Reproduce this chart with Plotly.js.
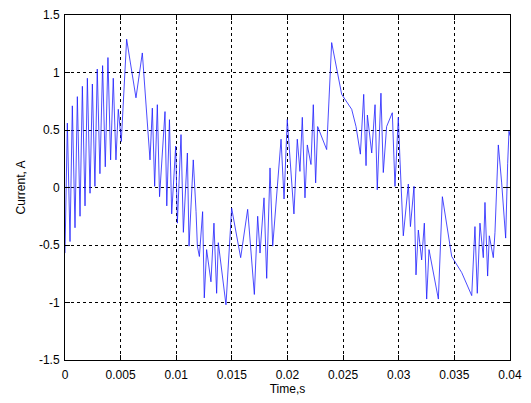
<!DOCTYPE html>
<html><head><meta charset="utf-8">
<script src="https://cdn.plot.ly/plotly-3.0.1.min.js"></script>
<style>html,body{margin:0;padding:0;background:#fff}#chart{width:531px;height:403px}</style>
</head><body><div id="chart"></div>
<script>
const timeS = [0.00000,0.00021,0.00045,0.00066,0.00090,0.00111,0.00135,0.00156,0.00180,0.00201,0.00225,0.00246,0.00269,0.00290,0.00314,0.00338,0.00362,0.00386,0.00410,0.00434,0.00458,0.00479,0.00506,0.00554,0.00638,0.00695,0.00764,0.00785,0.00806,0.00830,0.00850,0.00899,0.00915,0.00939,0.00959,0.00995,0.01010,0.01043,0.01064,0.01100,0.01115,0.01153,0.01178,0.01190,0.01208,0.01237,0.01252,0.01273,0.01312,0.01339,0.01363,0.01378,0.01447,0.01498,0.01579,0.01642,0.01702,0.01732,0.01753,0.01789,0.01813,0.01843,0.01867,0.01942,0.01969,0.01998,0.02058,0.02088,0.02112,0.02133,0.02157,0.02178,0.02211,0.02232,0.02253,0.02271,0.02352,0.02373,0.02397,0.02487,0.02577,0.02616,0.02655,0.02685,0.02706,0.02718,0.02757,0.02787,0.02807,0.02840,0.02861,0.02891,0.02942,0.02966,0.02996,0.03011,0.03041,0.03086,0.03105,0.03137,0.03155,0.03176,0.03206,0.03230,0.03251,0.03272,0.03326,0.03356,0.03392,0.03476,0.03566,0.03656,0.03685,0.03706,0.03730,0.03760,0.03775,0.03799,0.03814,0.03850,0.03865,0.03895,0.03925,0.03961,0.03979,0.03991,0.04000];
const currentA = [-0.57,0.56,-0.47,0.71,-0.35,0.79,-0.25,0.88,-0.16,0.95,-0.05,0.90,0.01,1.03,0.12,1.06,0.18,1.13,0.24,0.95,0.24,0.68,0.40,1.29,0.78,1.17,0.24,0.69,0.01,0.72,-0.08,0.66,-0.16,0.59,-0.23,0.36,-0.31,0.46,-0.39,0.30,-0.51,0.24,-0.21,-0.51,-0.60,-0.21,-0.96,-0.54,-0.82,-0.31,-0.92,-0.48,-1.02,-0.18,-0.61,-0.19,-0.93,-0.25,-0.57,-0.09,-0.79,0.17,-0.51,0.42,-0.10,0.59,-0.23,0.42,0.14,0.61,-0.09,0.37,0.20,0.72,0.04,0.53,0.33,0.77,1.26,0.81,0.68,0.53,0.29,0.81,0.19,0.63,0.30,0.72,-0.02,0.82,0.13,0.53,0.65,0.01,0.61,0.24,-0.42,0.03,-0.34,0.01,-0.76,-0.37,-0.63,-0.31,-0.97,-0.54,-0.80,-0.97,-0.08,-0.60,-0.74,-0.94,-0.34,-0.92,-0.31,-0.61,-0.13,-0.77,-0.42,-0.61,-0.39,0.37,0.04,-0.44,0.21,0.49,0.45];
const xTicks = [0,0.005,0.01,0.015,0.02,0.025,0.03,0.035,0.04];
const xTickText = ["0","0.005","0.01","0.015","0.02","0.025","0.03","0.035","0.04"];
const yTicks = [-1.5,-1,-0.5,0,0.5,1,1.5];
const yTickText = ["-1.5","-1","-0.5","0","0.5","1","1.5"];

const fnt = {family:"Liberation Sans, Arial, sans-serif", size:12, color:"#000"};
const axisCommon = {
  showline:true, linecolor:"#000", linewidth:1, mirror:"ticks",
  ticks:"inside", ticklen:5, tickcolor:"#000",
  showgrid:true, gridcolor:"#000", griddash:"dot", gridwidth:1,
  zeroline:false, tickfont:fnt
};
const data = [{x:timeS, y:currentA, type:"scatter", mode:"lines",
  line:{color:"rgb(30,30,255)", width:0.8}, hoverinfo:"none"}];
const layout = {
  width:531, height:403,
  margin:{l:65, r:21, t:15, b:43},
  paper_bgcolor:"#fff", plot_bgcolor:"#fff",
  showlegend:false,
  xaxis:Object.assign({}, axisCommon, {range:[0,0.04], tickvals:xTicks, ticktext:xTickText,
    ticklabelstandoff:4,
    title:{text:"Time,s", font:fnt, standoff:3}}),
  yaxis:Object.assign({}, axisCommon, {range:[-1.5,1.5], tickvals:yTicks, ticktext:yTickText,
    ticklabelstandoff:2,
    title:{text:"Current, A", font:fnt, standoff:10}})
};
Plotly.newPlot("chart", data, layout, {staticPlot:true, displayModeBar:false});
</script></body></html>
